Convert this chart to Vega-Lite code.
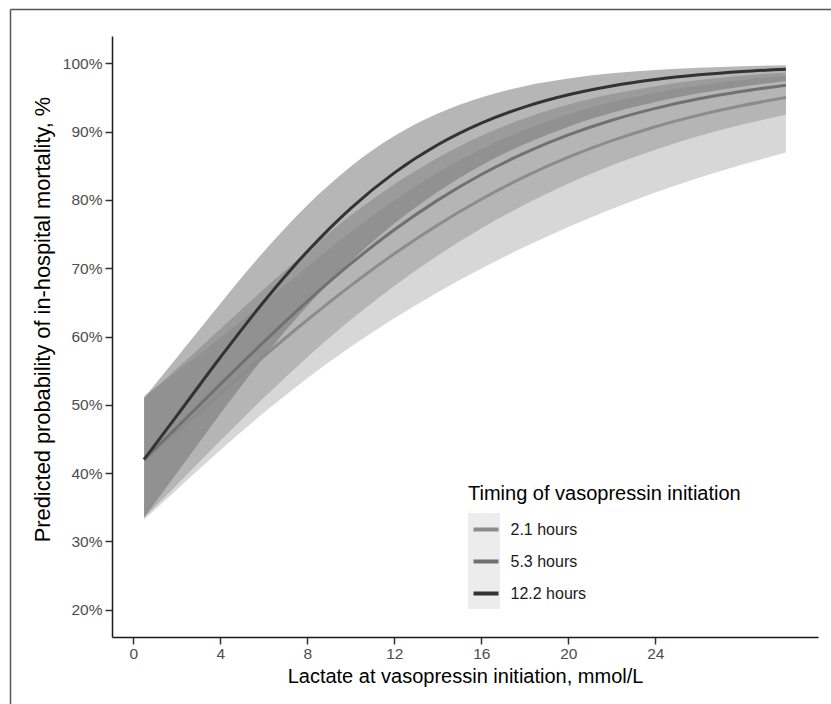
{
  "$schema": "https://vega.github.io/schema/vega-lite/v6.json",
  "width": 821,
  "height": 695,
  "autosize": {"type": "none"},
  "padding": {"left": 10, "top": 9, "right": 0, "bottom": 0},
  "background": "white",
  "config": {
    "font": "Liberation Sans",
    "view": {"stroke": null},
    "axis": {
      "grid": false,
      "domainColor": "#1a1a1a",
      "domainWidth": 1.5,
      "tickColor": "#333333",
      "tickWidth": 1.5,
      "tickSize": 7,
      "labelColor": "#4d4d4d",
      "labelFontSize": 15.5,
      "labelFont": "Liberation Sans",
      "titleFont": "Liberation Sans",
      "titleFontSize": 20,
      "titleFontWeight": "normal",
      "titleColor": "#000000"
    },
    "legend": {"labelFont": "Liberation Sans", "titleFont": "Liberation Sans"}
  },
  "data": {
    "values": [
      {"lactate": 0.5, "timing": "2.1 hours", "fit": 0.4199, "lower": 0.3321, "upper": 0.5131},
      {"lactate": 2, "timing": "2.1 hours", "fit": 0.4608, "lower": 0.3757, "upper": 0.5484},
      {"lactate": 4, "timing": "2.1 hours", "fit": 0.5161, "lower": 0.4334, "upper": 0.5980},
      {"lactate": 6, "timing": "2.1 hours", "fit": 0.5710, "lower": 0.4884, "upper": 0.6499},
      {"lactate": 8, "timing": "2.1 hours", "fit": 0.6242, "lower": 0.5390, "upper": 0.7023},
      {"lactate": 10, "timing": "2.1 hours", "fit": 0.6745, "lower": 0.5850, "upper": 0.7529},
      {"lactate": 12, "timing": "2.1 hours", "fit": 0.7211, "lower": 0.6267, "upper": 0.7993},
      {"lactate": 14, "timing": "2.1 hours", "fit": 0.7634, "lower": 0.6648, "upper": 0.8400},
      {"lactate": 16, "timing": "2.1 hours", "fit": 0.8010, "lower": 0.6995, "upper": 0.8744},
      {"lactate": 18, "timing": "2.1 hours", "fit": 0.8340, "lower": 0.7313, "upper": 0.9027},
      {"lactate": 20, "timing": "2.1 hours", "fit": 0.8625, "lower": 0.7603, "upper": 0.9253},
      {"lactate": 22, "timing": "2.1 hours", "fit": 0.8867, "lower": 0.7867, "upper": 0.9432},
      {"lactate": 24, "timing": "2.1 hours", "fit": 0.9071, "lower": 0.8107, "upper": 0.9570},
      {"lactate": 26, "timing": "2.1 hours", "fit": 0.9241, "lower": 0.8324, "upper": 0.9676},
      {"lactate": 28, "timing": "2.1 hours", "fit": 0.9383, "lower": 0.8519, "upper": 0.9757},
      {"lactate": 30, "timing": "2.1 hours", "fit": 0.9499, "lower": 0.8694, "upper": 0.9818},
      {"lactate": 0.5, "timing": "5.3 hours", "fit": 0.4199, "lower": 0.3349, "upper": 0.5100},
      {"lactate": 2, "timing": "5.3 hours", "fit": 0.4667, "lower": 0.3826, "upper": 0.5528},
      {"lactate": 4, "timing": "5.3 hours", "fit": 0.5299, "lower": 0.4472, "upper": 0.6110},
      {"lactate": 6, "timing": "5.3 hours", "fit": 0.5921, "lower": 0.5102, "upper": 0.6692},
      {"lactate": 8, "timing": "5.3 hours", "fit": 0.6515, "lower": 0.5697, "upper": 0.7253},
      {"lactate": 10, "timing": "5.3 hours", "fit": 0.7066, "lower": 0.6245, "upper": 0.7771},
      {"lactate": 12, "timing": "5.3 hours", "fit": 0.7562, "lower": 0.6741, "upper": 0.8230},
      {"lactate": 14, "timing": "5.3 hours", "fit": 0.7997, "lower": 0.7187, "upper": 0.8619},
      {"lactate": 16, "timing": "5.3 hours", "fit": 0.8372, "lower": 0.7583, "upper": 0.8940},
      {"lactate": 18, "timing": "5.3 hours", "fit": 0.8689, "lower": 0.7932, "upper": 0.9196},
      {"lactate": 20, "timing": "5.3 hours", "fit": 0.8951, "lower": 0.8239, "upper": 0.9396},
      {"lactate": 22, "timing": "5.3 hours", "fit": 0.9166, "lower": 0.8506, "upper": 0.9550},
      {"lactate": 24, "timing": "5.3 hours", "fit": 0.9340, "lower": 0.8736, "upper": 0.9666},
      {"lactate": 26, "timing": "5.3 hours", "fit": 0.9480, "lower": 0.8934, "upper": 0.9754},
      {"lactate": 28, "timing": "5.3 hours", "fit": 0.9591, "lower": 0.9104, "upper": 0.9819},
      {"lactate": 30, "timing": "5.3 hours", "fit": 0.9680, "lower": 0.9248, "upper": 0.9867},
      {"lactate": 0.5, "timing": "12.2 hours", "fit": 0.4199, "lower": 0.3349, "upper": 0.5100},
      {"lactate": 2, "timing": "12.2 hours", "fit": 0.4838, "lower": 0.3996, "upper": 0.5688},
      {"lactate": 4, "timing": "12.2 hours", "fit": 0.5693, "lower": 0.4868, "upper": 0.6481},
      {"lactate": 6, "timing": "12.2 hours", "fit": 0.6509, "lower": 0.5697, "upper": 0.7242},
      {"lactate": 8, "timing": "12.2 hours", "fit": 0.7245, "lower": 0.6445, "upper": 0.7923},
      {"lactate": 10, "timing": "12.2 hours", "fit": 0.7877, "lower": 0.7098, "upper": 0.8491},
      {"lactate": 12, "timing": "12.2 hours", "fit": 0.8396, "lower": 0.7654, "upper": 0.8936},
      {"lactate": 14, "timing": "12.2 hours", "fit": 0.8807, "lower": 0.8120, "upper": 0.9265},
      {"lactate": 16, "timing": "12.2 hours", "fit": 0.9124, "lower": 0.8505, "upper": 0.9501},
      {"lactate": 18, "timing": "12.2 hours", "fit": 0.9363, "lower": 0.8819, "upper": 0.9666},
      {"lactate": 20, "timing": "12.2 hours", "fit": 0.9540, "lower": 0.9073, "upper": 0.9777},
      {"lactate": 22, "timing": "12.2 hours", "fit": 0.9669, "lower": 0.9275, "upper": 0.9853},
      {"lactate": 24, "timing": "12.2 hours", "fit": 0.9763, "lower": 0.9434, "upper": 0.9903},
      {"lactate": 26, "timing": "12.2 hours", "fit": 0.9831, "lower": 0.9560, "upper": 0.9936},
      {"lactate": 28, "timing": "12.2 hours", "fit": 0.9880, "lower": 0.9659, "upper": 0.9958},
      {"lactate": 30, "timing": "12.2 hours", "fit": 0.9914, "lower": 0.9736, "upper": 0.9973}
    ]
  },
  "resolve": {"scale": {"x": "independent", "y": "independent"}},
  "layer": [
    {
      "mark": {"type": "rect"},
      "encoding": {
        "x": {
          "field": "lactate",
          "type": "quantitative",
          "scale": {"domain": [-0.975, 31.475], "range": [0, 900], "nice": false, "zero": false},
          "axis": {"orient": "top", "offset": 0, "labels": false, "ticks": false, "title": null, "domainColor": "#555555", "domainWidth": 1.5}
        },
        "x2": {"field": "lactate"},
        "y": {
          "field": "fit",
          "type": "quantitative",
          "scale": {"domain": [0.16, 1.04], "range": [900, 0], "nice": false, "zero": false},
          "axis": {"orient": "left", "offset": 0, "labels": false, "ticks": false, "title": null, "domainColor": "#555555", "domainWidth": 1.5}
        },
        "y2": {"field": "fit"},
        "fill": {
          "field": "timing",
          "type": "nominal",
          "scale": {"domain": ["12.2 hours", "5.3 hours", "2.1 hours"], "range": ["#ececec", "#ececec", "#ececec"]},
          "legend": {
            "orient": "top-left",
            "offset": 458,
            "title": ["", "Timing of vasopressin initiation"],
            "titleColor": "#000000",
            "titleFontSize": 20,
            "titleLineHeight": 17,
            "titleFontWeight": "normal",
            "titleLimit": 500,
            "titlePadding": 9,
            "padding": 0,
            "symbolType": "square",
            "symbolSize": 1024,
            "symbolStrokeWidth": 0,
            "rowPadding": 0,
            "labelExpr": "''"
          }
        }
      }
    },
    {
      "layer": [
        {
          "mark": {"type": "area", "interpolate": "monotone", "fillOpacity": 0.5},
          "encoding": {
            "x": {
              "field": "lactate",
              "type": "quantitative",
              "title": "Lactate at vasopressin initiation, mmol/L",
              "scale": {"domain": [-0.975, 31.475], "range": [102, 808], "nice": false, "zero": false},
              "axis": {"orient": "bottom", "values": [0, 4, 8, 12, 16, 20, 24], "offset": -67, "labelPadding": 2, "titlePadding": 5}
            },
            "y": {
              "field": "lower",
              "type": "quantitative",
              "title": "Predicted probability of in-hospital mortality, %",
              "scale": {"domain": [0.16, 1.04], "range": [628, 27], "nice": false, "zero": false},
              "axis": {"orient": "left", "values": [0.2, 0.3, 0.4, 0.5, 0.6, 0.7, 0.8, 0.9, 1.0], "format": ".0%", "offset": -102, "labelPadding": 3, "titlePadding": 8, "titleFontSize": 21.8, "titleY": 310}
            },
            "y2": {"field": "upper"},
            "color": {
              "field": "timing",
              "type": "nominal",
              "scale": {"domain": ["5.3 hours", "2.1 hours", "12.2 hours"], "range": ["#939393", "#b0b0b0", "#6e6e6e"]},
              "legend": null
            }
          }
        },
        {
          "mark": {"type": "line", "interpolate": "monotone", "strokeWidth": 3},
          "encoding": {
            "x": {"field": "lactate", "type": "quantitative", "title": "Lactate at vasopressin initiation, mmol/L"},
            "y": {"field": "fit", "type": "quantitative", "title": "Predicted probability of in-hospital mortality, %"},
            "stroke": {
              "field": "timing",
              "type": "nominal",
              "scale": {"domain": ["2.1 hours", "5.3 hours", "12.2 hours"], "range": ["#8c8c8c", "#717171", "#333333"]},
              "legend": {
                "orient": "none",
                "legendX": 459,
                "legendY": 506,
                "title": null,
                "padding": 0,
                "symbolType": "stroke",
                "symbolSize": 625,
                "symbolStrokeWidth": 4,
                "symbolOffset": 2.5,
                "rowPadding": 9,
                "labelFontSize": 16,
                "labelColor": "#1a1a1a",
                "labelOffset": 10
              }
            }
          }
        }
      ]
    }
  ]
}
